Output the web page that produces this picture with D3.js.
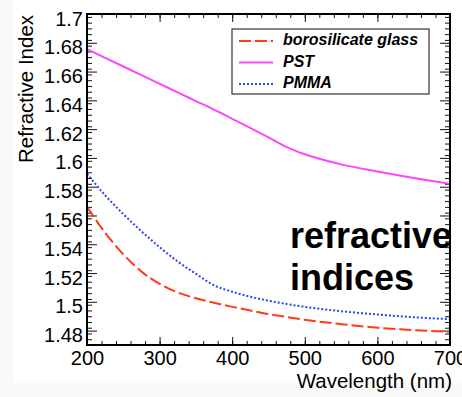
<!DOCTYPE html>
<meta charset="utf-8">
<script src="https://d3js.org/d3.v7.min.js"></script>
<style>
  body { margin: 0; background: #f9f9f9; }
  text { font-family: "Liberation Sans", Arial, Helvetica, sans-serif; }
</style>
<div id="my_dataviz"></div>
<script>

  // data
  var wavelength = [200, 225, 250, 275, 300, 325, 350, 375, 400, 425, 450, 475, 500, 550, 600, 650, 700]
  var borosilicate = [1.566, 1.548, 1.533, 1.521, 1.5125, 1.5065, 1.5025, 1.4993, 1.4965, 1.494, 1.4915, 1.4895, 1.4875, 1.4845, 1.482, 1.4803, 1.4792]
  var pst = [1.6755, 1.6695, 1.6635, 1.6575, 1.6515, 1.6455, 1.6395, 1.6335, 1.6272, 1.6208, 1.6143, 1.6075, 1.6025, 1.5955, 1.5905, 1.586, 1.582]
  var pmma = [1.589, 1.574, 1.561, 1.549, 1.538, 1.528, 1.5195, 1.5115, 1.507, 1.5035, 1.5008, 1.4985, 1.4965, 1.4935, 1.4912, 1.4893, 1.4879]
  var seriesNames = ["borosilicate glass", "PST", "PMMA"]
  var xTicks = [200, 300, 400, 500, 600, 700]
  var yTicks = [1.48, 1.5, 1.52, 1.54, 1.56, 1.58, 1.6, 1.62, 1.64, 1.66, 1.68, 1.7]

  var series = [
    {name: seriesNames[0], values: borosilicate, color: "#ff3a1a", dash: "12,4"},
    {name: seriesNames[1], values: pst, color: "#ff44ff", dash: null},
    {name: seriesNames[2], values: pmma, color: "#2a45ff", dash: "2,2"}
  ]

  var W = 462, H = 397
  var margin = {top: 14, right: 12, bottom: 52, left: 87},
    width = W - margin.left - margin.right,
    height = H - margin.top - margin.bottom

  var root = d3.select("#my_dataviz")
    .append("svg")
      .attr("width", W)
      .attr("height", H)

  // white pad (the picture has a faint grey edge on left and bottom)
  root.append("rect")
    .attr("x", 13).attr("y", 0)
    .attr("width", W - 13).attr("height", 383)
    .attr("fill", "#fff")

  var svg = root.append("g")
    .attr("transform", "translate(" + margin.left + "," + margin.top + ")")

  var x = d3.scaleLinear().domain([200, 700]).range([0, width])
  var y = d3.scaleLinear().domain([1.47, 1.70]).range([height, 0])

  var xMinor = d3.range(200, 701, 20)
  var yMinor = d3.range(0, 58).map(function(i) { return +(1.47 + i * 0.004).toFixed(3) }).filter(function(v) { return v <= 1.7 })

  // ticks pointing into the frame, on all four sides
  function tickAxis(axis, vals, size, tr) {
    var g = svg.append("g")
      .attr("transform", tr || null)
      .call(axis.tickValues(vals).tickSizeInner(-size).tickSizeOuter(0).tickFormat(""))
    g.select(".domain").remove()
    g.selectAll("line").attr("stroke", "#111")
    return g
  }
  tickAxis(d3.axisBottom(x), xMinor, 4, "translate(0," + height + ")")
  tickAxis(d3.axisBottom(x), xTicks, 8, "translate(0," + height + ")")
  tickAxis(d3.axisTop(x), xMinor, 4)
  tickAxis(d3.axisTop(x), xTicks, 8)
  tickAxis(d3.axisLeft(y), yMinor, 5)
  tickAxis(d3.axisLeft(y), yTicks, 10)
  tickAxis(d3.axisRight(y), yMinor, 5, "translate(" + width + ",0)")
  tickAxis(d3.axisRight(y), yTicks, 10, "translate(" + width + ",0)")

  // labels
  var xl = svg.append("g")
    .attr("transform", "translate(0," + height + ")")
    .call(d3.axisBottom(x).tickValues(xTicks).tickSize(0).tickPadding(6).tickFormat(d3.format("d")))
  xl.select(".domain").remove()
  xl.selectAll("text").style("font-size", "20px").attr("fill", "#000").attr("font-family", null)

  var yl = svg.append("g")
    .call(d3.axisLeft(y).tickValues(yTicks).tickSize(0).tickPadding(4).tickFormat(function(d) { return String(+d.toFixed(2)) }))
  yl.select(".domain").remove()
  yl.selectAll("text").style("font-size", "20px").attr("fill", "#000").attr("dy", "0.55em").attr("font-family", null)

  // curves
  svg.append("clipPath").attr("id", "clip")
    .append("rect").attr("width", width).attr("height", height)

  var line = d3.line()
    .x(function(d, i) { return x(wavelength[i]) })
    .y(function(d) { return y(d) })
    .curve(d3.curveMonotoneX)

  svg.append("g").attr("clip-path", "url(#clip)")
    .selectAll("path")
    .data(series)
    .enter()
    .append("path")
      .attr("d", function(d) { return line(d.values) })
      .attr("fill", "none")
      .attr("stroke", function(d) { return d.color })
      .attr("stroke-width", 2)
      .attr("stroke-dasharray", function(d) { return d.dash })

  // frame
  svg.append("rect")
    .attr("width", width).attr("height", height)
    .attr("fill", "none").attr("stroke", "#000").attr("stroke-width", 2)

  // legend
  var lg = svg.append("g").attr("transform", "translate(" + (232 - margin.left) + "," + (29 - margin.top) + ")")
  lg.append("rect")
    .attr("width", 197).attr("height", 65)
    .attr("fill", "#fff").attr("stroke", "#333").attr("stroke-width", 1.2)
  var items = lg.selectAll("g.item")
    .data(series)
    .enter()
    .append("g")
      .attr("transform", function(d, i) { return "translate(0," + (16 + i * 21.5) + ")" })
  items.append("line")
    .attr("x1", 7).attr("x2", 41).attr("y1", -4).attr("y2", -4)
    .attr("stroke", function(d) { return d.color })
    .attr("stroke-width", 2)
    .attr("stroke-dasharray", function(d) { return d.dash })
  items.append("text")
    .attr("x", 51).attr("y", 0)
    .style("font-size", "16px").style("font-weight", "bold").style("font-style", "italic")
    .text(function(d) { return d.name })

  // axis titles
  root.append("text")
    .attr("transform", "translate(33,89) rotate(-90)")
    .attr("text-anchor", "middle")
    .style("font-size", "20.5px")
    .text("Refractive Index")
  root.append("text")
    .attr("x", 452).attr("y", 388)
    .attr("text-anchor", "end")
    .style("font-size", "20.5px")
    .text("Wavelength (nm)")

  // annotation
  var note = root.append("text")
    .attr("x", 290).attr("y", 248)
    .style("font-size", "36px").style("font-weight", "bold")
  note.append("tspan").attr("x", 290).text("refractive")
  note.append("tspan").attr("x", 290).attr("dy", 42).text("indices")

</script>
